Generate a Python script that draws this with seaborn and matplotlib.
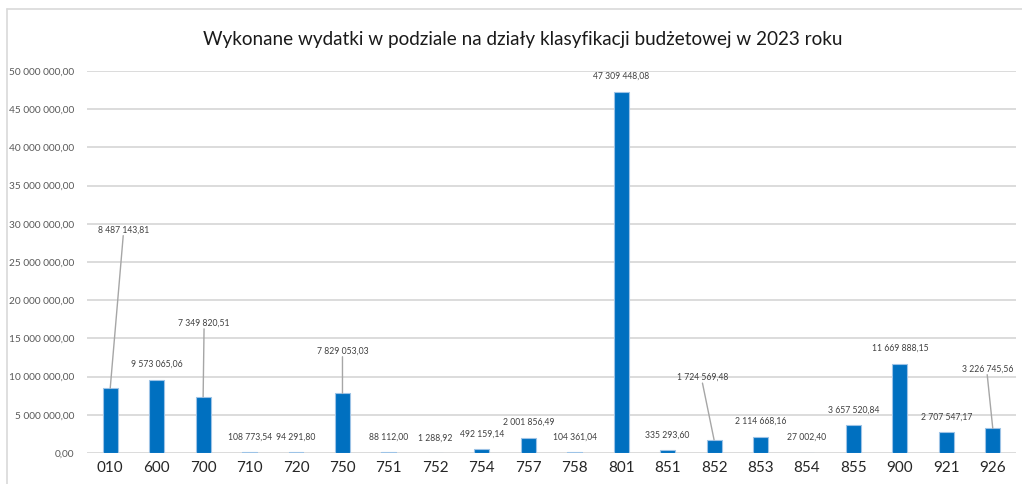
import matplotlib
matplotlib.use("Agg")
import matplotlib.pyplot as plt
import seaborn as sns
import numpy as np
from matplotlib.lines import Line2D

categories = ["010", "600", "700", "710", "720", "750", "751", "752", "754", "757",
              "758", "801", "851", "852", "853", "854", "855", "900", "921", "926"]
values = [8487143.81, 9573065.06, 7349820.51, 108773.54, 94291.80, 7829053.03,
          88112.00, 1288.92, 492159.14, 2001856.49, 104361.04, 47309448.08,
          335293.60, 1724569.48, 2114668.16, 27002.40, 3657520.84, 11669888.15,
          2707547.17, 3226745.56]
title = "Wykonane wydatki w podziale na działy klasyfikacji budżetowej w 2023 roku"
yticks = np.arange(0, 50_000_001, 5_000_000)

# callout label placements (category offset, y value) for labels with leader lines
callouts = {
    "010": (0.28, 29.2e6),
    "700": (0.02, 17.0e6),
    "750": (0.00, 13.35e6),
    "852": (-0.25, 9.9e6),
    "926": (-0.12, 11.0e6),
}

sns.set_theme(style="white")
plt.rcParams["font.family"] = ["Lato", "DejaVu Sans"]

def fmt(v):
    return f"{v:,.2f}".replace(",", " ").replace(".", ",")

fig = plt.figure(figsize=(10.22, 4.84), dpi=100)
ax = fig.add_axes([87/1022, 31/484, 929/1022, 382/484])

sns.barplot(x=categories, y=values, color="#0070C0", saturation=1, width=0.32,
            edgecolor="#9DC3E6", linewidth=0.8, ax=ax, zorder=3)

ax.set_ylim(0, 50_000_000)
ax.set_xlim(-0.5, len(categories) - 0.5)
ax.set_yticks(yticks)
ax.set_yticklabels([fmt(t) for t in yticks], fontsize=7.3, color="#595959")
ax.tick_params(axis="y", length=0, pad=9)
ax.tick_params(axis="x", length=0, pad=6, labelsize=11, colors="#262626")
ax.set_xlabel("")
ax.set_ylabel("")
for s in ax.spines.values():
    s.set_visible(False)
ax.yaxis.grid(True, color="#D9D9D9", linewidth=1.3, zorder=0)
ax.xaxis.grid(False)
ax.set_axisbelow(True)

for i, (c, v) in enumerate(zip(categories, values)):
    if c in callouts:
        dx, ly = callouts[c]
        ax.annotate("", xy=(i, v), xytext=(i + dx, ly - 0.75e6),
                    arrowprops=dict(arrowstyle="-", color="#A6A6A6", lw=1.0,
                                    shrinkA=0, shrinkB=0), zorder=4)
        ax.text(i + dx, ly, fmt(v), ha="center", va="center", fontsize=6.2,
                color="#404040", zorder=5)
    else:
        ax.annotate(fmt(v), xy=(i, v), xytext=(0, 11), textcoords="offset points",
                    ha="center", va="center", fontsize=6.2, color="#404040", zorder=5)

fig.text(523/1022, 1 - 40/484, title, ha="center", va="center", fontsize=13.6,
         color="#1a1a1a")

fig.add_artist(Line2D([7/1022, 7/1022], [0, 1 - 9/484], color="#D9D9D9", lw=1.2,
                      transform=fig.transFigure))
fig.add_artist(Line2D([7/1022, 1], [1 - 9/484, 1 - 9/484], color="#D9D9D9", lw=1.2,
                      transform=fig.transFigure))

fig.savefig("out.png", dpi=100, facecolor="white")
